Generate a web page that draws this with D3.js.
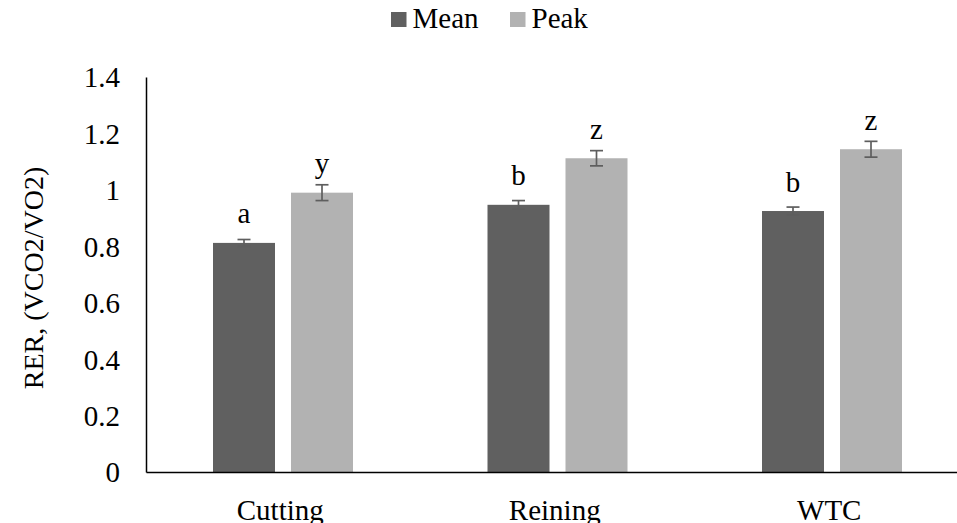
<!DOCTYPE html>
<html>
<head>
<meta charset="utf-8">
<script src="https://cdn.jsdelivr.net/npm/d3@7"></script>
<style>
  html, body { margin: 0; padding: 0; background: #fff; }
  svg { display: block; }
</style>
</head>
<body>
<svg id="chart" width="957" height="523"></svg>
<script>
// Respiratory exchange ratio by activity
const categories = ["Cutting", "Reining", "WTC"];
const seriesNames = ["Mean", "Peak"];
const meanValues = [0.812, 0.947, 0.925];
const peakValues = [0.990, 1.112, 1.144];
const meanErrors = [0.012, 0.015, 0.014];
const peakErrors = [0.028, 0.027, 0.028];
const meanLetters = ["a", "b", "b"];
const peakLetters = ["y", "z", "z"];
const yTicks = [0, 0.2, 0.4, 0.6, 0.8, 1, 1.2, 1.4];
const colors = { Mean: "#606060", Peak: "#b2b2b2" };

const FONT = "Liberation Serif";
const FS = 29;

// apply the serif face to a text selection
const serif = sel => sel.attr("font-family", FONT).style("font-family", "'Liberation Serif', 'Times New Roman', serif");

const svg = d3.select("#chart");

const plotLeft = 146, plotRight = 969.5;
const plotTop = 77, plotBottom = 472;

const y = d3.scaleLinear().domain([0, 1.4]).range([plotBottom, plotTop]);
const x0 = d3.scaleBand().domain(categories).range([plotLeft, plotRight]);
const x1 = d3.scaleBand().domain(seriesNames)
  .range([67, x0.bandwidth() - 67.5]).paddingInner(16 / 78);

const rows = categories.map((c, i) => ({
  cat: c,
  bars: [
    { s: "Mean", v: meanValues[i], e: meanErrors[i], l: meanLetters[i] },
    { s: "Peak", v: peakValues[i], e: peakErrors[i], l: peakLetters[i] }
  ]
}));

// Y axis: line only with labels
const yAxis = d3.axisLeft(y).tickValues(yTicks).tickSize(0).tickPadding(0)
  .tickFormat(d3.format("~g"));
const gy = svg.append("g").attr("transform", `translate(${plotLeft},0)`).call(yAxis);
gy.select(".domain").attr("stroke", "#000").attr("stroke-width", 1.5);
gy.selectAll("text")
  .attr("x", -26)
  .attr("dy", "0.34em")
  .attr("font-size", FS)
  .attr("fill", "#000")
  .call(serif);

// Bars
const groups = svg.append("g").selectAll("g").data(rows).join("g")
  .attr("transform", d => `translate(${x0(d.cat)},0)`);

groups.selectAll("rect").data(d => d.bars).join("rect")
  .attr("x", d => x1(d.s))
  .attr("width", x1.bandwidth())
  .attr("y", d => y(d.v))
  .attr("height", d => y(0) - y(d.v))
  .attr("fill", d => colors[d.s]);

// Error bars
const cx = d => x1(d.s) + x1.bandwidth() / 2;
const err = groups.selectAll("g.err").data(d => d.bars).join("g").attr("class", "err")
  .attr("stroke", "#5e5e5e").attr("stroke-width", 1.7);
err.append("line")
  .attr("x1", cx).attr("x2", cx)
  .attr("y1", d => y(d.v + d.e)).attr("y2", d => y(d.v - d.e));
err.append("line")
  .attr("x1", d => cx(d) - 6.5).attr("x2", d => cx(d) + 6.5)
  .attr("y1", d => y(d.v + d.e)).attr("y2", d => y(d.v + d.e));
err.append("line")
  .attr("x1", d => cx(d) - 6.5).attr("x2", d => cx(d) + 6.5)
  .attr("y1", d => y(d.v - d.e)).attr("y2", d => y(d.v - d.e));

// Significance letters
groups.selectAll("text.sig").data(d => d.bars).join("text").attr("class", "sig")
  .attr("x", cx)
  .attr("y", d => y(d.v) - 19.5)
  .attr("text-anchor", "middle")
  .attr("font-size", FS)
  .attr("fill", "#000")
  .call(serif)
  .text(d => d.l);

// X axis line and category labels
const xAxis = d3.axisBottom(x0).tickSize(0).tickPadding(0);
const gx = svg.append("g").attr("transform", `translate(0,${plotBottom})`).call(xAxis);
gx.select(".domain").attr("stroke", "#000").attr("stroke-width", 1.5);
gx.selectAll("text")
  .attr("x", -3)
  .attr("y", 48)
  .attr("dy", 0)
  .attr("font-size", FS)
  .attr("fill", "#000")
  .call(serif);

// Y axis title
svg.append("text")
  .attr("transform", `translate(43,278) rotate(-90)`)
  .attr("text-anchor", "middle")
  .attr("font-size", 28)
  .attr("fill", "#000")
  .call(serif)
  .text("RER, (VCO2/VO2)");

// Legend
const legend = svg.append("g");
const legendItems = [{ s: "Mean", x: 391 }, { s: "Peak", x: 510 }];
legendItems.forEach(it => {
  legend.append("rect").attr("x", it.x).attr("y", 12).attr("width", 15.5).attr("height", 15)
    .attr("fill", colors[it.s]);
  legend.append("text").attr("x", it.x + 21.5).attr("y", 28.3)
    .attr("font-size", FS).attr("fill", "#000")
    .call(serif)
    .text(it.s);
});
</script>
</body>
</html>
